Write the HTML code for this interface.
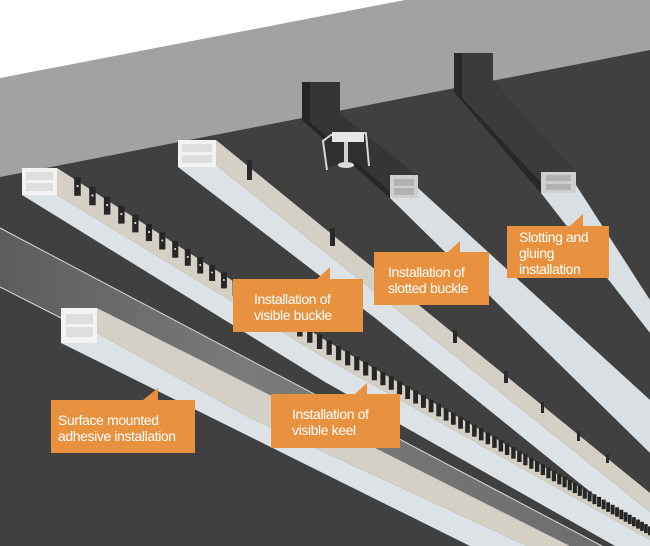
<!DOCTYPE html>
<html><head><meta charset="utf-8"><style>
html,body{margin:0;padding:0;background:#fff}
#w{position:relative;width:650px;height:546px;overflow:hidden}
svg{position:absolute;left:0;top:0}
.b{position:absolute;background:#e8913f;color:#fff;font-family:"Liberation Sans",sans-serif;font-size:14px;line-height:16px;letter-spacing:-0.4px;box-sizing:border-box;white-space:nowrap}
</style></head><body><div id="w">
<svg width="650" height="546" viewBox="0 0 650 546">
<rect width="650" height="546" fill="#fff"/>
<polygon points="0,78 405,0 650,0 650,546 0,546" fill="#a2a2a2"/>
<polygon points="0,177 650,50 650,546 0,546" fill="#404040"/>
<polygon points="302,82 340,82 340,114 418,176 390,198 302,120" fill="#353535"/>
<polygon points="302,82 310,82 310,122 395,196 390,198 302,120" fill="#262626"/>
<polygon points="454,53 493,53 493,80 576,172 541,193 454,92" fill="#3b3b3b"/>
<polygon points="454,53 462,53 462,98 548,190 541,193 454,92" fill="#282828"/>
<polygon points="541,193 576,185 650,300 650,333" fill="#d9dfe2"/>
<rect x="541" y="172" width="35" height="21" fill="#cfcfcf"/>
<rect x="546" y="175" width="25" height="6" fill="#b2b2b2"/>
<rect x="546" y="184" width="25" height="6" fill="#b2b2b2"/>
<polygon points="390,198 418,188 650,400 650,453" fill="#d9dfe2"/>
<rect x="390" y="175" width="28" height="23" fill="#cfcfcf"/>
<rect x="394" y="179" width="20" height="7" fill="#b2b2b2"/>
<rect x="394" y="188" width="20" height="7" fill="#b2b2b2"/>
<polygon points="322,140 330,134 368,132 370,168 352,162 340,164 326,168" fill="#2f2f2f"/>
<g stroke="#d8d8d8" stroke-width="2" fill="none">
<polyline points="327,170 323,141 331,135 366,133 369,166"/>
</g>
<rect x="332" y="132" width="32" height="10" fill="#e6e6e6"/>
<rect x="344" y="142" width="4" height="20" fill="#d0d0d0"/>
<ellipse cx="346" cy="165" rx="8" ry="3" fill="#ddd"/>
<polygon points="178,167 216,165 650,512 650,540 375,318" fill="#dce2e5"/>
<polygon points="216,140 650,493 650,512 216,165" fill="#d4d0c6"/>
<g fill="#2a2a2a">
<rect x="247" y="160" width="5" height="20"/>
<rect x="330" y="228" width="5" height="18"/>
<rect x="453" y="330" width="4" height="13"/>
<rect x="504" y="371" width="4" height="12"/>
<rect x="541" y="402" width="3" height="11"/>
<rect x="577" y="431" width="3" height="10"/>
<rect x="606" y="454" width="3" height="9"/>
</g>
<rect x="178" y="140" width="38" height="27" fill="#f3f3f3"/>
<rect x="182" y="144" width="30" height="8" fill="#dedede"/>
<rect x="182" y="155" width="30" height="8" fill="#dedede"/>
<defs><linearGradient id="g1" x1="0" y1="0" x2="1" y2="0"><stop offset="0" stop-color="#5c5c5c"/><stop offset="0.4" stop-color="#7a7a7a"/><stop offset="1" stop-color="#6e6e6e"/></linearGradient></defs>
<polygon points="0,228 602,546 570,546 97,308 61,308 61,318 0,287" fill="url(#g1)"/>
<line x1="0" y1="228" x2="602" y2="546" stroke="#d8d8d8" stroke-width="1"/>
<line x1="0" y1="287" x2="61" y2="318" stroke="#d8d8d8" stroke-width="1"/>
<polygon points="97,308 570,546 527,546 250,418 97,333" fill="#d4d0c6"/>
<polygon points="61,343 97,333 250,418 527,546 470,546" fill="#dce2e5"/>
<rect x="61" y="308" width="36" height="35" fill="#f3f3f3"/>
<rect x="66" y="314" width="27" height="10" fill="#dedede"/>
<rect x="66" y="327" width="27" height="10" fill="#dedede"/>
<polygon points="22,195 57,195 325,358 650,540 650,546 615,546 325,382" fill="#dce2e5"/>
<polygon points="57,168 325,340 650,528 650,540 325,358 57,195" fill="#d4d0c6"/>
<path fill="#262626" stroke="#262626" stroke-width="1.6" d="M75,178h5v17h-5z M90,187.7h4.9v16.7h-4.9z M104.7,197.3h4.9v16.5h-4.9z M119,206.5h4.8v16.3h-4.8z M133,215.6h4.7v16h-4.7z M146.7,224.5h4.6v15.8h-4.6z M160,233.1h4.6v15.6h-4.6z M173,241.5h4.5v15.4h-4.5z M185.6,249.7h4.4v15.2h-4.4z M198,257.7h4.4v15h-4.4z M210,265.5h4.3v14.7h-4.3z M221.8,273.1h4.3v14.5h-4.3z M233.4,280.7h4.2v14.3h-4.2z M244.7,287.9h4.2v14.1h-4.2z M255.8,295.1h4.1v14h-4.1z M266.6,302.2h4v13.8h-4z M277.3,309.1h4v13.6h-4z M287.7,315.8h3.9v13.4h-3.9z M297.9,322.4h3.9v13.3h-3.9z M307.9,328.9h3.8v13.1h-3.8z M317.7,335.3h3.8v12.9h-3.8z M327.3,341.3h3.7v12.8h-3.7z M336.7,346.8h3.7v12.6h-3.7z M345.9,352.1h3.6v12.5h-3.6z M355,357.3h3.6v12.3h-3.6z M363.9,362.5h3.6v12.2h-3.6z M372.6,367.5h3.5v12h-3.5z M381.2,372.5h3.5v11.9h-3.5z M389.6,377.3h3.4v11.7h-3.4z M397.9,382.1h3.4v11.6h-3.4z M406,386.8h3.3v11.4h-3.3z M414,391.4h3.3v11.3h-3.3z M421.8,395.9h3.3v11.2h-3.3z M429.5,400.4h3.2v11h-3.2z M437.1,404.7h3.2v10.9h-3.2z M444.5,409h3.2v10.8h-3.2z M451.8,413.3h3.1v10.7h-3.1z M459,417.4h3.1v10.5h-3.1z M466,421.5h3v10.4h-3z M472.9,425.5h3v10.3h-3z M479.7,429.4h3v10.2h-3z M486.4,433.3h2.9v10.1h-2.9z M493,437.1h2.9v10h-2.9z M499.4,440.8h2.9v9.9h-2.9z M505.7,444.4h2.8v9.8h-2.8z M512,448.1h2.8v9.7h-2.8z M518,451.6h2.8v9.6h-2.8z M524,455h2.7v9.5h-2.7z M530,458.5h2.7v9.4h-2.7z M535.8,461.8h2.7v9.3h-2.7z M541.5,465.1h2.7v9.2h-2.7z M547.1,468.4h2.6v9.1h-2.6z M552.6,471.5h2.6v9h-2.6z M558,474.7h2.6v8.9h-2.6z M563.3,477.7h2.6v8.8h-2.6z M568.5,480.7h2.5v8.7h-2.5z M573.6,483.7h2.5v8.6h-2.5z M578.6,486.6h2.5v8.5h-2.5z M583.5,489.4h2.5v8.5h-2.5z M588.4,492.2h2.4v8.4h-2.4z M593.2,495h2.4v8.3h-2.4z M597.9,497.7h2.4v8.2h-2.4z M602.5,500.4h2.4v8.1h-2.4z M607,503h2.3v8.1h-2.3z M611.5,505.6h2.3v8h-2.3z M615.9,508.1h2.3v7.9h-2.3z M620.2,510.6h2.3v7.8h-2.3z M624.5,513.1h2.2v7.8h-2.2z M628.7,515.5h2.2v7.7h-2.2z M632.8,517.9h2.2v7.6h-2.2z M636.9,520.3h2.2v7.5h-2.2z M640.9,522.6h2.2v7.5h-2.2z M644.9,524.9h2.1v7.4h-2.1z M648.8,527.2h2.1v7.3h-2.1z"/>
<g fill="#ddd">
<circle cx="77.5" cy="186" r="1.1"/><circle cx="92.4" cy="195.5" r="1.1"/><circle cx="107.1" cy="205" r="1.1"/><circle cx="121.4" cy="214" r="1.1"/><circle cx="135.3" cy="223" r="1.1"/><circle cx="149" cy="232" r="1.1"/><circle cx="162.3" cy="240.5" r="1"/><circle cx="175.2" cy="249" r="1"/><circle cx="187.8" cy="257" r="1"/><circle cx="200.2" cy="265" r="1"/><circle cx="212.1" cy="272.5" r="1"/><circle cx="223.9" cy="280" r="1"/>
</g>
<rect x="22" y="168" width="35" height="27" fill="#f3f3f3"/>
<rect x="26" y="172" width="27" height="8" fill="#dedede"/>
<rect x="26" y="183" width="27" height="8" fill="#dedede"/>
<g fill="#e8913f">
<polygon points="317,279 330,267 330,279"/>
<polygon points="448,252 460,241 460,252"/>
<polygon points="570,226 583,214 583,226"/>
<polygon points="143,400 158,388 158,400"/>
<polygon points="355,394 367,383 367,394"/>
</g>
</svg>
<div class="b" style="left:233px;top:279px;width:130px;height:53px;padding:12px 0 0 21px">Installation of<br>visible buckle</div>
<div class="b" style="left:374px;top:252px;width:115px;height:53px;padding:12px 0 0 14px">Installation of<br>slotted buckle</div>
<div class="b" style="left:507px;top:226px;width:102px;height:52px;padding:3px 0 0 12px">Slotting and<br>gluing<br>installation</div>
<div class="b" style="left:51px;top:400px;width:144px;height:53px;padding:12px 0 0 7px">Surface mounted<br>adhesive installation</div>
<div class="b" style="left:271px;top:394px;width:129px;height:54px;padding:12px 0 0 21px">Installation of<br>visible keel</div>
</div></body></html>
